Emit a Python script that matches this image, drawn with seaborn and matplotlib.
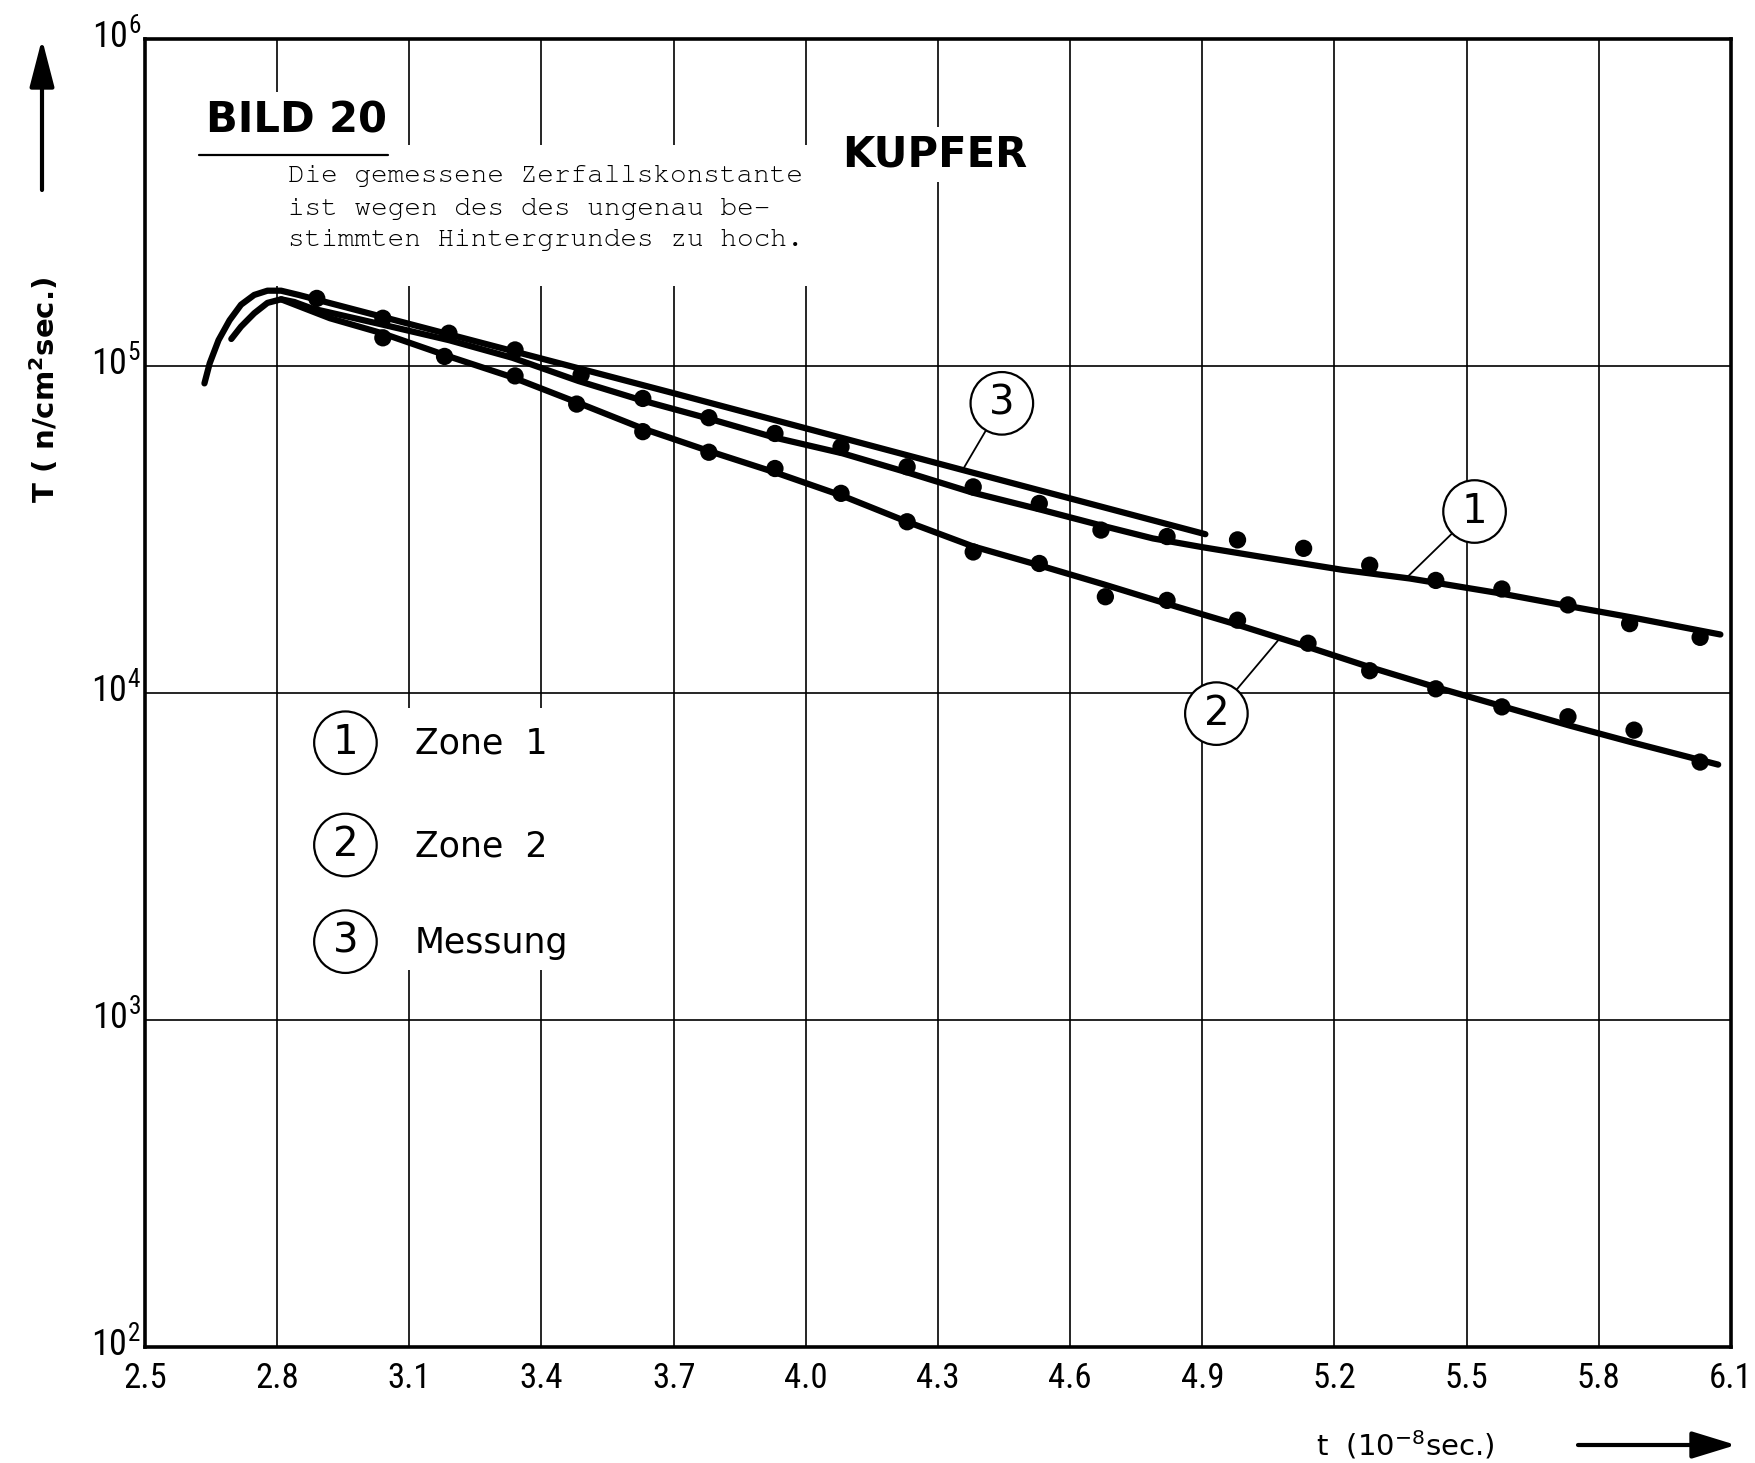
import matplotlib
matplotlib.use("Agg")
import matplotlib.pyplot as plt
from matplotlib import font_manager
from matplotlib.patches import Rectangle
from matplotlib.ticker import NullLocator
from matplotlib.transforms import ScaledTranslation
import numpy as np
import pandas as pd
import seaborn as sns

# ---------------- data ----------------
x_ticks = [2.5, 2.8, 3.1, 3.4, 3.7, 4.0, 4.3, 4.6, 4.9, 5.2, 5.5, 5.8, 6.1]
x_tick_labels = ["2.5", "2.8", "3.1", "3.4", "3.7", "4.0", "4.3", "4.6", "4.9",
                 "5.2", "5.5", "5.8", "6.1"]
y_ticks = [1e2, 1e3, 1e4, 1e5, 1e6]
y_exponents = [2, 3, 4, 5, 6]

# measured points, upper series (zone 1)
zone1_t = [2.89, 3.04, 3.19, 3.34, 3.49, 3.63, 3.78, 3.93, 4.08, 4.23, 4.38,
           4.53, 4.67, 4.82, 4.98, 5.13, 5.28, 5.43, 5.58, 5.73, 5.87, 6.03]
zone1_T = [1.61e5, 1.40e5, 1.26e5, 1.12e5, 9.4e4, 7.96e4, 6.95e4, 6.22e4,
           5.66e4, 4.92e4, 4.27e4, 3.80e4, 3.15e4, 3.01e4, 2.94e4, 2.77e4,
           2.46e4, 2.21e4, 2.08e4, 1.86e4, 1.63e4, 1.48e4]

# measured points, lower series (zone 2)
zone2_t = [3.04, 3.18, 3.34, 3.48, 3.63, 3.78, 3.93, 4.08, 4.23, 4.38, 4.53,
           4.68, 4.82, 4.98, 5.14, 5.28, 5.43, 5.58, 5.73, 5.88, 6.03]
zone2_T = [1.22e5, 1.07e5, 9.33e4, 7.65e4, 6.30e4, 5.45e4, 4.86e4, 4.08e4,
           3.34e4, 2.70e4, 2.49e4, 1.97e4, 1.92e4, 1.67e4, 1.42e4, 1.17e4,
           1.03e4, 9.07e3, 8.46e3, 7.70e3, 6.15e3]

# curve 1 (Zone 1)
curve1_t = [2.696, 2.718, 2.748, 2.778, 2.809, 2.839, 2.879, 3.038, 3.190,
            3.334, 3.484, 3.631, 3.781, 3.930, 4.083, 4.230, 4.379, 4.529,
            4.676, 4.788, 4.902, 5.041, 5.219, 5.371, 5.574, 5.726, 5.878, 6.076]
curve1_T = [1.21e5, 1.32e5, 1.45e5, 1.56e5, 1.60e5, 1.57e5, 1.50e5, 1.34e5,
            1.20e5, 1.06e5, 9.0e4, 7.83e4, 6.90e4, 6.04e4, 5.41e4, 4.73e4,
            4.10e4, 3.65e4, 3.24e4, 2.97e4, 2.79e4, 2.60e4, 2.38e4, 2.24e4,
            2.02e4, 1.85e4, 1.70e4, 1.51e4]

# curve 2 (Zone 2)
curve2_t = [2.809, 2.92, 3.038, 3.190, 3.334, 3.484, 3.631, 3.781, 3.930,
            4.083, 4.230, 4.379, 4.529, 4.676, 4.828, 4.978, 5.135, 5.280,
            5.432, 5.582, 5.734, 5.883, 6.071]
curve2_T = [1.60e5, 1.40e5, 1.26e5, 1.07e5, 9.24e4, 7.71e4, 6.43e4, 5.49e4,
            4.73e4, 4.01e4, 3.34e4, 2.81e4, 2.46e4, 2.15e4, 1.86e4, 1.62e4,
            1.39e4, 1.20e4, 1.04e4, 9.10e3, 7.95e3, 7.02e3, 6.04e3]

# curve 3 (Messung)
curve3_t = [2.635, 2.647, 2.667, 2.692, 2.718, 2.748, 2.778, 2.809, 2.849,
            3.697, 4.356, 4.907]
curve3_T = [8.85e4, 1.02e5, 1.20e5, 1.38e5, 1.54e5, 1.65e5, 1.70e5, 1.70e5,
            1.65e5, 8.28e4, 4.81e4, 3.06e4]

legend_labels = ["Zone  1", "Zone  2", "Messung"]
legend_numbers = ["1", "2", "3"]
title_text = "BILD 20"
material_text = "KUPFER"
note_lines = ["Die gemessene Zerfallskonstante",
              "ist wegen des des ungenau be-",
              "stimmten Hintergrundes zu hoch."]

# ---------------- fonts ----------------
sns.set_theme(style="white")
installed = {f.name for f in font_manager.fontManager.ttflist}
narrow = next((n for n in ["Liberation Sans Narrow", "DejaVu Sans Condensed",
                           "Roboto Condensed"] if n in installed), "DejaVu Sans")
mono = next((n for n in ["Courier New", "Nimbus Mono PS", "FreeMono",
                         "Liberation Mono"] if n in installed), "DejaVu Sans Mono")
plt.rcParams["font.family"] = ["DejaVu Sans"]
plt.rcParams["mathtext.default"] = "regular"

# ---------------- figure ----------------
fig = plt.figure(figsize=(17.55, 14.63), dpi=100)
fig.patch.set_facecolor("white")
ax = fig.add_axes([0.0826, 0.0793, 0.9037, 0.8940])
ax.set_facecolor("white")
ax.set_yscale("log")
ax.set_xlim(2.5, 6.1)
ax.set_ylim(1e2, 1e6)

# grid
ax.set_axisbelow(True)
ax.grid(True, which="major", color="black", linewidth=1.2)
ax.yaxis.set_minor_locator(NullLocator())
ax.xaxis.set_minor_locator(NullLocator())

for s in ax.spines.values():
    s.set_color("black")
    s.set_linewidth(2.6)
    s.set_zorder(5)

# curves
lw = 4.5
for t, T in [(curve1_t, curve1_T), (curve2_t, curve2_T), (curve3_t, curve3_T)]:
    sns.lineplot(x=t, y=T, sort=False, estimator=None, color="black",
                 linewidth=lw, ax=ax, zorder=3, solid_capstyle="round")

# points
for t, T in [(zone1_t, zone1_T), (zone2_t, zone2_T)]:
    sns.scatterplot(x=t, y=T, color="black", s=155, edgecolor="none",
                    linewidth=0, ax=ax, zorder=4)

# ticks
ax.set_xticks(x_ticks)
ax.set_xticklabels(x_tick_labels, fontfamily=narrow, fontsize=25)
ax.set_yticks(y_ticks)
ax.set_yticklabels([f"$10^{{{e}}}$" for e in y_exponents],
                   fontfamily=narrow, fontsize=26)
ax.tick_params(axis="x", length=0, pad=11, colors="black")
ax.tick_params(axis="y", length=0, pad=3, colors="black")
shift_up = ScaledTranslation(0, 5 / 72, fig.dpi_scale_trans)
for lab in ax.get_yticklabels():
    lab.set_transform(lab.get_transform() + shift_up)

# axis labels
ax.set_ylabel("T ( n/cm$^{2}$sec.)", fontsize=21, fontweight="bold",
              color="black", va="center")
ax.yaxis.set_label_coords(-0.063, 0.7317)
ax.set_xlabel("t  (10$^{-8}$sec.)", fontsize=21, color="black", va="center")
ax.xaxis.set_label_coords(0.7948, -0.0749)

# white paste-over regions (hide grid under text)
ax.add_patch(Rectangle((0.0252, 0.9136), 0.1356, 0.0459, transform=ax.transAxes,
                       facecolor="white", edgecolor="none", zorder=1))
ax.add_patch(Rectangle((0.0757, 0.8112), 0.3448, 0.1078, transform=ax.transAxes,
                       facecolor="white", edgecolor="none", zorder=1))
ax.add_patch(Rectangle((0.0977, 0.2882), 0.1766, 0.2003, transform=ax.transAxes,
                       facecolor="white", edgecolor="none", zorder=1))

# title block
ax.text(0.0956, 0.9374, title_text, transform=ax.transAxes, ha="center",
        va="center", fontsize=30, fontweight="bold", color="black", zorder=6)
ax.plot([0.0342, 0.1535], [0.9117, 0.9117], transform=ax.transAxes,
        color="black", linewidth=1.6, zorder=6)
for line, yy in zip(note_lines, [0.8907, 0.8654, 0.8417]):
    ax.text(0.0900, yy, line, transform=ax.transAxes, ha="left", va="baseline",
            fontsize=20, fontfamily=mono, color="black", zorder=6)
ax.text(0.4979, 0.9117, material_text, transform=ax.transAxes, ha="center",
        va="center", fontsize=30, fontweight="bold", color="black", zorder=6,
        bbox=dict(boxstyle="square,pad=0.15", fc="white", ec="none"))

# legend (numbered circles)
circ = dict(boxstyle="circle,pad=0.28", fc="white", ec="black", lw=1.6)
for num, lab, yc, yb in zip(legend_numbers, legend_labels,
                            [0.4620, 0.3838, 0.3099], [0.4534, 0.3749, 0.3010]):
    ax.text(0.1264, yc, num, transform=ax.transAxes, ha="center", va="center",
            fontsize=29, color="black", bbox=circ, zorder=6)
    ax.text(0.1702, yb, lab, transform=ax.transAxes, ha="left", va="baseline",
            fontsize=25, color="black", zorder=6)

# curve labels with leader lines
for num, centre, end in [("3", (4.445, 7.69e4), (4.356, 4.81e4)),
                         ("1", (5.518, 3.59e4), (5.362, 2.24e4)),
                         ("2", (4.932, 8.65e3), (5.076, 1.47e4))]:
    ax.annotate(num, xy=end, xytext=centre, ha="center", va="center",
                fontsize=29, color="black", bbox=circ, zorder=6,
                arrowprops=dict(arrowstyle="-", color="black", lw=1.3,
                                shrinkA=0, shrinkB=0))

# axis direction arrows
ax.annotate("", xy=(42, 1463 - 39), xytext=(42, 1463 - 190),
            xycoords="figure pixels", textcoords="figure pixels",
            arrowprops=dict(arrowstyle="-|>,head_length=2.9,head_width=0.75",
                            mutation_scale=10, lw=3, color="black",
                            shrinkA=0, shrinkB=0), annotation_clip=False)
ax.annotate("", xy=(1736, 1463 - 1445), xytext=(1578, 1463 - 1445),
            xycoords="figure pixels", textcoords="figure pixels",
            arrowprops=dict(arrowstyle="-|>,head_length=2.7,head_width=0.83",
                            mutation_scale=10, lw=3, color="black",
                            shrinkA=0, shrinkB=0), annotation_clip=False)

fig.savefig("out.png", dpi=100, facecolor="white")
